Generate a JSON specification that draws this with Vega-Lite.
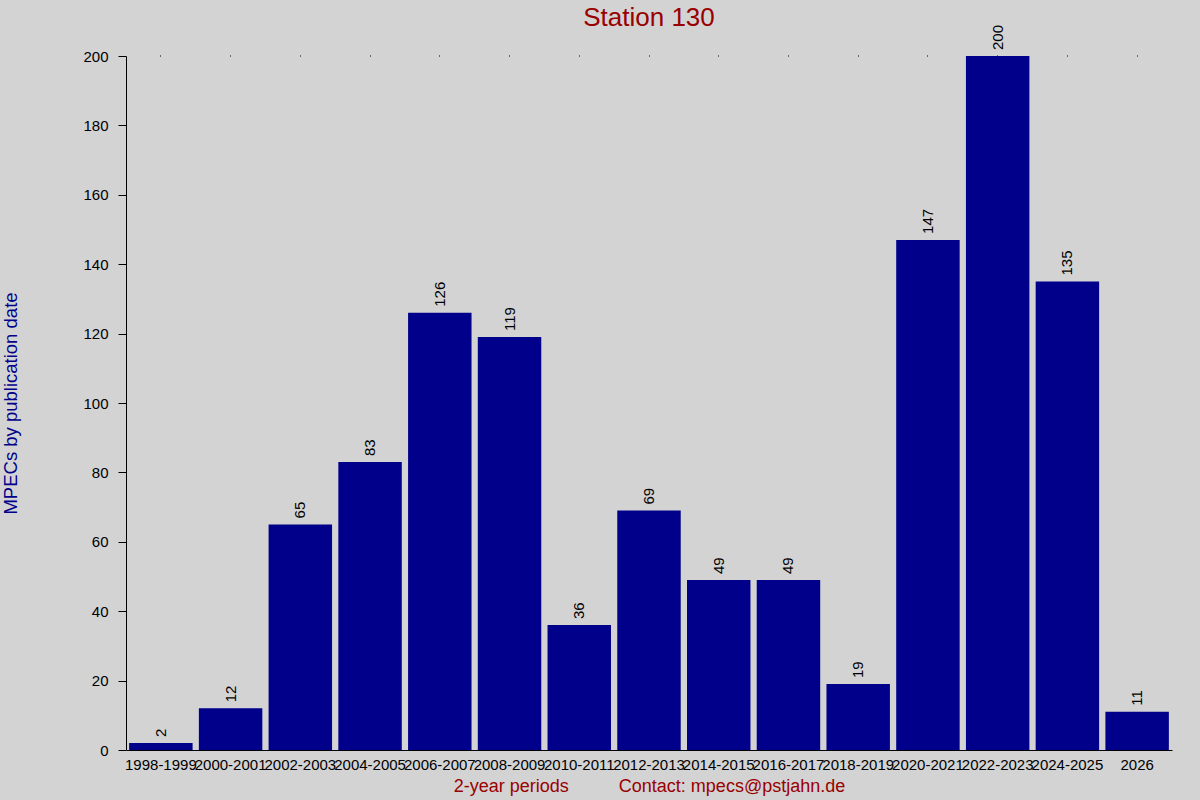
{
  "$schema": "https://vega.github.io/schema/vega-lite/v6.json",
  "autosize": {"type": "none"},
  "width": 1046,
  "height": 694,
  "padding": {"left": 126, "top": 56, "right": 28, "bottom": 50},
  "background": "#D3D3D3",
  "config": {
    "view": {"stroke": null},
    "font": "Liberation Sans"
  },
  "title": {
    "text": "Station 130",
    "color": "#990000",
    "fontSize": 26,
    "fontWeight": "normal",
    "font": "Liberation Sans",
    "anchor": "middle",
    "frame": "group",
    "offset": -6
  },
  "data": {
    "values": [
      {"period": "1998-1999", "count": 2},
      {"period": "2000-2001", "count": 12},
      {"period": "2002-2003", "count": 65},
      {"period": "2004-2005", "count": 83},
      {"period": "2006-2007", "count": 126},
      {"period": "2008-2009", "count": 119},
      {"period": "2010-2011", "count": 36},
      {"period": "2012-2013", "count": 69},
      {"period": "2014-2015", "count": 49},
      {"period": "2016-2017", "count": 49},
      {"period": "2018-2019", "count": 19},
      {"period": "2020-2021", "count": 147},
      {"period": "2022-2023", "count": 200},
      {"period": "2024-2025", "count": 135},
      {"period": "2026", "count": 11}
    ]
  },
  "resolve": {"axis": {"x": "independent"}},
  "layer": [
    {
      "mark": {"type": "bar", "color": "#00008B"},
      "encoding": {
        "x": {
          "field": "period",
          "type": "nominal",
          "sort": null,
          "scale": {"paddingInner": 0.09, "paddingOuter": 0.045},
          "axis": {
            "orient": "bottom",
            "title": "2-year periods\u00a0\u00a0\u00a0\u00a0\u00a0\u00a0\u00a0\u00a0\u00a0\u00a0Contact: mpecs@pstjahn.de",
            "titleColor": "#990000",
            "titleFontSize": 18,
            "titleFontWeight": "normal",
            "titlePadding": 5,
            "labelAngle": 0,
            "labelFontSize": 15,
            "labelColor": "#000000",
            "labelPadding": 7,
            "labelOverlap": false,
            "labelBound": false,
            "ticks": false,
            "domainColor": "#000000",
            "domainWidth": 1
          }
        },
        "y": {
          "field": "count",
          "type": "quantitative",
          "scale": {"domain": [0, 200], "nice": false},
          "axis": {
            "title": "MPECs by publication date",
            "titleColor": "#00008B",
            "titleFontSize": 18.5,
            "titleFontWeight": "normal",
            "titlePadding": 62,
            "values": [0, 20, 40, 60, 80, 100, 120, 140, 160, 180, 200],
            "grid": false,
            "tickSize": 8,
            "tickColor": "#000000",
            "domainColor": "#000000",
            "labelFontSize": 15,
            "labelColor": "#000000",
            "labelPadding": 10
          }
        }
      }
    },
    {
      "mark": {
        "type": "text",
        "angle": 270,
        "align": "left",
        "baseline": "middle",
        "dx": 6,
        "fontSize": 15,
        "color": "#000000"
      },
      "encoding": {
        "x": {
          "field": "period",
          "type": "nominal",
          "sort": null,
          "axis": {
            "orient": "top",
            "title": null,
            "labels": false,
            "domain": false,
            "ticks": true,
            "tickSize": 1,
            "tickColor": "#000000"
          }
        },
        "y": {"field": "count", "type": "quantitative"},
        "text": {"field": "count", "type": "quantitative"}
      }
    }
  ]
}
